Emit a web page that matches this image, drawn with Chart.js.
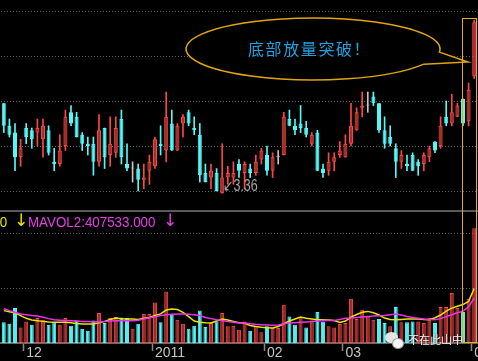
<!DOCTYPE html>
<html>
<head>
<meta charset="utf-8">
<script src="https://cdn.jsdelivr.net/npm/chart.js@4.4.0/dist/chart.umd.min.js"></script>
<style>
  body { margin: 0; background: #000; }
  #wrap { position: relative; width: 478px; height: 361px; overflow: hidden; background: #000; font-family: 'Liberation Sans', 'DejaVu Sans', sans-serif; }
  #wrap canvas { position: absolute; left: 0; }
  .txt { position: absolute; white-space: nowrap; line-height: 1; }
</style>
</head>
<body>
<div id="wrap">
  <canvas id="priceChart" width="478" height="211" style="top:0"></canvas>
  <canvas id="volChart" width="478" height="149" style="top:212px"></canvas>
  <div style="position:absolute;left:0;top:210px;width:478px;height:2px;background:#5a5a5a"></div>
  <div id="hilite" style="position:absolute;top:18px;height:325px;border:1.5px solid #f0ac00;box-sizing:border-box"></div>

  <div class="txt" style="left:248px;top:40px;font-size:16px;letter-spacing:1.6px;color:#1ea2e0;font-family:'Noto Sans CJK SC',sans-serif">底部放量突破！</div>
  <div class="txt" style="left:223px;top:178px;font-size:16px;color:#a4a4a4;transform:scaleX(0.78);transform-origin:left">↙3.36</div>

  <div class="txt" style="right:471px;top:214px;font-size:15px;color:#e8e800;transform:scaleX(0.89);transform-origin:right">MAVOL1:497108.000</div>
  <div class="txt" style="left:14px;top:212px;font-size:17px;color:#e8e800;font-family:'DejaVu Sans'">↓</div>
  <div class="txt" style="left:28px;top:214px;font-size:15px;color:#e83ce8;transform:scaleX(0.89);transform-origin:left">MAVOL2:407533.000</div>
  <div class="txt" style="left:163px;top:212px;font-size:17px;color:#e83ce8;font-family:'DejaVu Sans'">↓</div>

  <!-- watermark -->
  <div style="position:absolute;left:385px;top:332px;width:13px;height:11px;border-radius:50%;background:#e4e4e4"></div>
  <div style="position:absolute;left:392px;top:338px;width:10px;height:9px;border-radius:50%;background:#f6f6f6;border:1px solid #999"></div>
  <div class="txt" style="left:408px;top:334px;font-size:11px;color:#f4f4f4;font-family:'Noto Sans CJK SC',sans-serif;text-shadow:0 0 2px #333">不在此山中</div>
</div>

<script>
// trading days shown
const dates = [
  '2010-11-25','2010-11-26','2010-11-29','2010-11-30',
  '2010-12-01','2010-12-02','2010-12-03','2010-12-06','2010-12-07','2010-12-08','2010-12-09','2010-12-10',
  '2010-12-13','2010-12-14','2010-12-15','2010-12-16','2010-12-17','2010-12-20','2010-12-21','2010-12-22',
  '2010-12-23','2010-12-24','2010-12-27','2010-12-28','2010-12-29','2010-12-30','2010-12-31',
  '2011-01-04','2011-01-05','2011-01-06','2011-01-07','2011-01-10','2011-01-11','2011-01-12','2011-01-13',
  '2011-01-14','2011-01-17','2011-01-18','2011-01-19','2011-01-20','2011-01-21','2011-01-24','2011-01-25',
  '2011-01-26','2011-01-27','2011-01-28','2011-01-31',
  '2011-02-01','2011-02-09','2011-02-10','2011-02-11','2011-02-14','2011-02-15','2011-02-16','2011-02-17',
  '2011-02-18','2011-02-21','2011-02-22','2011-02-23','2011-02-24','2011-02-25',
  '2011-03-01','2011-03-02','2011-03-03','2011-03-04','2011-03-07','2011-03-08','2011-03-09','2011-03-10',
  '2011-03-11','2011-03-14','2011-03-15','2011-03-16','2011-03-17','2011-03-18','2011-03-21','2011-03-22',
  '2011-03-23','2011-03-24','2011-03-25','2011-03-28','2011-03-29','2011-03-30','2011-03-31',
  '2011-04-01'
];

const opens = [
  3.76,3.66,3.63,3.52,3.65,3.64,3.63,3.60,3.64,3.50,
  3.49,3.57,3.72,3.70,3.62,3.58,3.58,3.50,3.65,3.53,
  3.54,3.69,3.49,3.47,3.47,3.42,3.46,3.48,3.58,3.55,
  3.67,3.55,3.67,3.72,3.65,3.62,3.45,3.43,3.45,3.36,
  3.43,3.43,3.49,3.45,3.47,3.45,3.51,3.53,3.46,3.52,
  3.53,3.69,3.66,3.67,3.65,3.58,3.63,3.47,3.46,3.50,
  3.53,3.52,3.58,3.64,3.74,3.75,3.79,3.76,3.64,3.61,
  3.56,3.50,3.49,3.53,3.50,3.49,3.52,3.59,3.57,3.70,
  3.67,3.70,3.78,3.68,3.88
];
const highs = [
  3.76,3.69,3.67,3.60,3.67,3.65,3.69,3.69,3.66,3.56,
  3.62,3.73,3.75,3.72,3.63,3.61,3.61,3.71,3.65,3.70,
  3.70,3.73,3.58,3.50,3.49,3.49,3.53,3.61,3.66,3.81,
  3.73,3.67,3.71,3.73,3.70,3.67,3.49,3.49,3.47,3.58,
  3.48,3.50,3.51,3.50,3.49,3.53,3.56,3.57,3.54,3.55,
  3.72,3.73,3.69,3.75,3.68,3.63,3.64,3.49,3.54,3.54,
  3.59,3.62,3.76,3.74,3.81,3.81,3.81,3.76,3.70,3.66,
  3.58,3.55,3.53,3.54,3.51,3.54,3.57,3.59,3.70,3.77,
  3.80,3.76,3.78,3.85,4.13
];
const lows = [
  3.63,3.61,3.46,3.48,3.58,3.56,3.57,3.52,3.53,3.46,
  3.48,3.55,3.66,3.61,3.55,3.53,3.44,3.48,3.47,3.48,
  3.52,3.49,3.46,3.41,3.37,3.38,3.40,3.47,3.53,3.50,
  3.55,3.55,3.61,3.66,3.62,3.41,3.41,3.38,3.37,3.36,
  3.40,3.40,3.43,3.38,3.43,3.44,3.49,3.44,3.43,3.49,
  3.53,3.66,3.62,3.63,3.61,3.57,3.46,3.43,3.44,3.46,
  3.52,3.52,3.57,3.64,3.70,3.72,3.75,3.63,3.56,3.57,
  3.43,3.47,3.46,3.46,3.44,3.46,3.50,3.54,3.56,3.66,
  3.66,3.70,3.66,3.66,3.87
];
const closes = [
  3.66,3.62,3.52,3.56,3.61,3.60,3.65,3.66,3.54,3.49,
  3.55,3.70,3.67,3.61,3.58,3.57,3.50,3.64,3.52,3.58,
  3.65,3.52,3.47,3.47,3.42,3.43,3.50,3.60,3.57,3.70,
  3.55,3.66,3.70,3.67,3.64,3.44,3.41,3.46,3.37,3.43,
  3.45,3.45,3.46,3.49,3.45,3.50,3.55,3.46,3.52,3.52,
  3.70,3.66,3.64,3.65,3.62,3.62,3.46,3.45,3.50,3.52,
  3.55,3.58,3.66,3.72,3.75,3.75,3.76,3.64,3.58,3.58,
  3.50,3.53,3.48,3.46,3.48,3.53,3.56,3.55,3.66,3.67,
  3.72,3.75,3.67,3.82,4.12
];

const volumes = [
  188000,176000,318000,142000,197000,167000,227000,212000,167000,188000,
  167000,227000,158000,206000,130000,112000,206000,273000,182000,227000,
  236000,233000,227000,130000,176000,264000,264000,370000,188000,470000,
  258000,212000,176000,130000,158000,297000,145000,182000,197000,273000,
  152000,158000,121000,197000,112000,152000,97000,152000,136000,136000,
  348000,242000,167000,233000,142000,206000,282000,197000,152000,142000,
  173000,182000,403000,218000,303000,242000,212000,218000,182000,152000,
  327000,188000,188000,197000,197000,182000,227000,182000,327000,327000,
  455000,318000,282000,403000,1045000
];
// MAVOL1 (yellow) and MAVOL2 (magenta)
const mavol1 = [
  295000,285000,275000,250000,225000,210000,203000,197000,191000,190000,
  188000,188000,185000,178000,173000,173000,173000,185000,197000,215000,
  227000,222000,218000,218000,215000,225000,233000,250000,265000,300000,
  309000,305000,279000,240000,200000,190000,185000,182000,200000,218000,
  210000,197000,185000,180000,160000,150000,143000,140000,137000,150000,
  175000,200000,218000,236000,225000,218000,212000,212000,210000,205000,
  188000,200000,236000,260000,280000,288000,275000,255000,227000,215000,
  212000,215000,218000,218000,218000,215000,212000,230000,255000,290000,
  318000,335000,350000,379000,497108
];
const mavol2 = [
  312000,295000,280000,265000,258000,250000,245000,235000,222000,212000,
  208000,205000,203000,200000,197000,195000,193000,192000,195000,200000,
  203000,203000,203000,203000,208000,218000,230000,240000,250000,258000,
  262000,264000,264000,262000,258000,250000,233000,222000,212000,205000,
  195000,188000,182000,182000,175000,170000,167000,165000,162000,165000,
  175000,182000,185000,188000,192000,197000,200000,205000,206000,206000,
  215000,225000,228000,233000,237000,242000,245000,248000,250000,258000,
  264000,255000,242000,233000,225000,218000,213000,212000,222000,240000,
  258000,275000,290000,330000,407533
];

const monthStarts = [4, 27, 47, 61, 84];
const monthLabels = ['12', '2011', '02', '03', '04'];

const RED = '#ff4646';
const RED_FILL = '#a33030';
const CYAN = '#54f8f8';
const GRAY = '#c4c4c4';

function candleDir(i) {
  return closes[i] > opens[i] ? 1 : (closes[i] < opens[i] ? -1 : 0);
}
// volume bars are coloured by close against previous close
function volUp(i) {
  return i === 0 ? candleDir(0) >= 0 : closes[i] >= closes[i - 1];
}

// speech bubble over the price panel
const calloutPlugin = {
  id: 'callout',
  afterDraw(chart) {
    const ctx = chart.ctx;
    ctx.save();
    ctx.beginPath();
    ctx.ellipse(313, 49, 127, 31, 0, 0.51, Math.PI * 2 + 0.1);
    ctx.lineTo(468, 62);
    ctx.closePath();
    ctx.fillStyle = '#000';
    ctx.fill();
    ctx.strokeStyle = '#dea513';
    ctx.lineWidth = 1.5;
    ctx.stroke();
    ctx.restore();
  }
};

const priceChart = new Chart(document.getElementById('priceChart'), {
  type: 'bar',
  data: {
    labels: dates,
    datasets: [{
      label: 'body',
      data: dates.map((d, i) => [Math.min(opens[i], closes[i]), Math.max(opens[i], closes[i])]),
      grouped: false,
      order: 1,
      categoryPercentage: 1,
      barPercentage: 0.72,
      minBarLength: 1,
      borderSkipped: false,
      borderWidth: 1,
      backgroundColor: c => { const d = candleDir(c.dataIndex); return d > 0 ? RED_FILL : (d < 0 ? CYAN : GRAY); },
      borderColor: c => { const d = candleDir(c.dataIndex); return d > 0 ? RED : (d < 0 ? CYAN : GRAY); }
    }, {
      label: 'wick',
      data: dates.map((d, i) => [lows[i], highs[i]]),
      grouped: false,
      order: 2,
      barThickness: 1,
      borderWidth: 0,
      backgroundColor: c => { const d = candleDir(c.dataIndex); return d > 0 ? RED : (d < 0 ? CYAN : GRAY); }
    }]
  },
  options: {
    responsive: false,
    animation: false,
    layout: { padding: { left: 1, right: 1, top: 0, bottom: 0 } },
    plugins: { legend: { display: false }, tooltip: { enabled: false } },
    scales: {
      x: { display: false, offset: true },
      y: {
        min: 3.2813,
        max: 4.2191,
        ticks: { display: false },
        border: { display: false, dash: [1, 2] },
        grid: { color: '#626262', drawTicks: false },
        afterBuildTicks: s => { s.ticks = [3.3658, 3.5658, 3.7658, 3.9658, 4.1658].map(v => ({ value: v })); },
        afterFit: s => { s.width = 0; }
      }
    }
  },
  plugins: [calloutPlugin]
});

const volChart = new Chart(document.getElementById('volChart'), {
  type: 'bar',
  data: {
    labels: dates,
    datasets: [{
      type: 'line',
      label: 'MAVOL2',
      data: mavol2,
      borderColor: '#ee30ee',
      borderWidth: 1.5,
      pointRadius: 0,
      tension: 0,
      order: 0
    }, {
      type: 'line',
      label: 'MAVOL1',
      data: mavol1,
      borderColor: '#e6e600',
      borderWidth: 1.5,
      pointRadius: 0,
      tension: 0,
      order: 1
    }, {
      label: 'VOL',
      data: volumes,
      order: 2,
      categoryPercentage: 1,
      barPercentage: 0.7,
      borderWidth: 1,
      borderSkipped: false,
      backgroundColor: c => volUp(c.dataIndex) ? RED_FILL : CYAN,
      borderColor: c => volUp(c.dataIndex) ? RED : CYAN
    }]
  },
  options: {
    responsive: false,
    animation: false,
    layout: { padding: { left: 1, right: 1, top: 0, bottom: 0 } },
    plugins: { legend: { display: false }, tooltip: { enabled: false } },
    scales: {
      x: {
        offset: true,
        grid: {
          offset: true,
          drawOnChartArea: false,
          drawTicks: true,
          tickLength: 8,
          tickWidth: 1.5,
          tickColor: c => monthStarts.includes(c.index) ? '#8a8a8a' : 'rgba(0,0,0,0)'
        },
        border: { display: true, color: '#6a6a6a', width: 2 },
        ticks: {
          autoSkip: false,
          maxRotation: 0,
          minRotation: 0,
          align: 'start',
          padding: -6,
          color: '#c4c4c4',
          font: { family: 'Liberation Sans', size: 14 },
          callback: v => { const k = monthStarts.indexOf(v); return k >= 0 ? monthLabels[k] : ''; }
        },
        afterFit: s => { s.height = 18; s.paddingLeft = 0; s.paddingRight = 0; }
      },
      y: {
        min: 0,
        max: 1193600,
        ticks: { display: false },
        border: { display: false, dash: [1, 2] },
        grid: { color: '#626262', drawTicks: false },
        afterBuildTicks: s => { s.ticks = [500000, 1000000].map(v => ({ value: v })); },
        afterFit: s => { s.width = 0; }
      }
    }
  }
});

// highlight box round the last two sessions
const xs = priceChart.scales.x;
const box = document.getElementById('hilite');
const left = xs.getPixelForValue(82) - 1;
const right = xs.getPixelForValue(84) + 3;
box.style.left = left + 'px';
box.style.width = (right - left) + 'px';
</script>
</body>
</html>
